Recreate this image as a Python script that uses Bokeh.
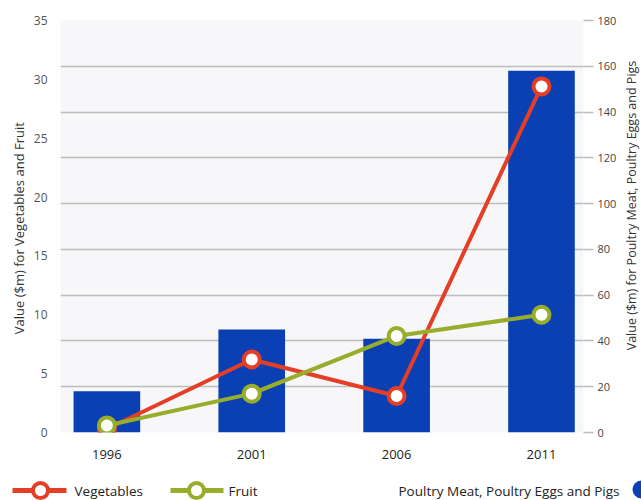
import math
from bokeh.plotting import figure
from bokeh.models import Range1d, LinearAxis, FixedTicker, SingleIntervalTicker
from bokeh.layouts import column, row
from bokeh.core.properties import value
from bokeh.embed import file_html
from bokeh.resources import INLINE

# ---- data ----
years = ["1996", "2001", "2006", "2011"]
vegetables = [0.3, 6.2, 3.1, 29.4]      # left axis ($m)
fruit = [0.6, 3.3, 8.2, 10.0]           # left axis ($m)
poultry = [18, 45, 41, 158]             # right axis ($m)
left_label = "Value ($m) for  Vegetables and Fruit"
right_label = "Value ($m) for Poultry Meat, Poultry Eggs and Pigs"
legend_names = ["Vegetables", "Fruit", "Poultry Meat, Poultry Eggs and Pigs"]

RED = "#e43f26"
GREEN = "#98ad2c"
BLUE = "#0a40b3"
FONT = "Open Sans"

xs = list(range(len(years)))

p = figure(width=619, height=470, x_range=Range1d(-0.32, 3.29), y_range=Range1d(0, 180),
           y_axis_location="right", output_backend="svg", toolbar_location=None,
           min_border_left=60, min_border_right=34, min_border_top=20, min_border_bottom=38)
p.extra_y_ranges = {"veg": Range1d(0, 35)}
p.background_fill_color = "#f7f7f9"
p.border_fill_color = "white"
p.outline_line_color = None

# right axis (main range)
ra = p.yaxis[0]
ra.ticker = SingleIntervalTicker(interval=20)
ra.major_tick_out = 10
ra.major_tick_in = 0
ra.major_tick_line_color = "#bdbdbd"
ra.major_tick_line_width = 1.5
ra.minor_tick_line_color = None
ra.axis_line_color = None
ra.major_label_standoff = 4
ra.major_label_text_font = FONT
ra.major_label_text_font_size = "11px"
ra.major_label_text_color = "#444444"

p.ygrid.grid_line_color = "#bdbdbd"
p.ygrid.grid_line_width = 1.5
p.xgrid.visible = False

# left axis
la = LinearAxis(y_range_name="veg", ticker=SingleIntervalTicker(interval=5), axis_label=left_label)
la.major_tick_out = 0
la.major_tick_in = 0
la.minor_tick_line_color = None
la.axis_line_color = None
la.major_label_standoff = 9
la.major_label_text_font = FONT
la.major_label_text_font_size = "12px"
la.major_label_text_color = "#555555"
la.axis_label_standoff = 3
la.axis_label_text_font = FONT
la.axis_label_text_font_style = "normal"
la.axis_label_text_font_size = "13px"
la.axis_label_text_color = "#333333"
p.add_layout(la, "left")

# x axis
xa = p.xaxis[0]
xa.ticker = FixedTicker(ticks=xs)
xa.major_label_overrides = {i: y for i, y in zip(xs, years)}
xa.major_tick_line_color = None
xa.minor_tick_line_color = None
xa.axis_line_color = None
xa.major_label_standoff = 11
xa.major_label_text_font = FONT
xa.major_label_text_font_size = "13px"
xa.major_label_text_color = "#222222"

# bars
p.vbar(x=xs, top=poultry, width=0.46, bottom=0, fill_color=BLUE, line_color=None)

# lines
p.line(xs, vegetables, y_range_name="veg", line_color=RED, line_width=4)
p.line(xs, fruit, y_range_name="veg", line_color=GREEN, line_width=4)
p.scatter(xs, vegetables, y_range_name="veg", marker="circle", size=16,
          fill_color="white", line_color=RED, line_width=4)
p.scatter(xs, fruit, y_range_name="veg", marker="circle", size=16,
          fill_color="white", line_color=GREEN, line_width=4)

# ---- right-hand strip holding the right axis title (reads bottom to top) ----
r = figure(width=22, height=470, x_range=Range1d(0, 22), y_range=Range1d(0, 470),
           x_axis_location=None, y_axis_location=None, output_backend="svg",
           toolbar_location=None, min_border=0)
r.grid.visible = False
r.outline_line_color = None
r.background_fill_color = "white"
r.border_fill_color = "white"
r.text(x=[12], y=[265], text=[right_label], angle=math.pi / 2, text_align="center",
       text_baseline="middle", text_font=value(FONT), text_font_size="12.5px",
       text_color="#333333")

# ---- legend strip ----
q = figure(width=641, height=30, x_range=Range1d(0, 641), y_range=Range1d(0, 30),
           x_axis_location=None, y_axis_location=None, output_backend="svg",
           toolbar_location=None, min_border=0)
q.grid.visible = False
q.outline_line_color = None
q.background_fill_color = "white"
q.border_fill_color = "white"

ly = 10
q.segment(x0=[12], y0=[ly], x1=[66], y1=[ly], line_color=RED, line_width=5)
q.scatter([40], [ly], marker="circle", size=15, fill_color="white", line_color=RED, line_width=4)
q.segment(x0=[170], y0=[ly], x1=[223], y1=[ly], line_color=GREEN, line_width=5)
q.scatter([196], [ly], marker="circle", size=15, fill_color="white", line_color=GREEN, line_width=4)
q.scatter([641], [ly + 1], marker="circle", size=18, fill_color=BLUE, line_color=None)
q.text(x=[74, 228, 398], y=[ly, ly, ly], text=legend_names, text_baseline="middle",
       text_align="left", text_font=value(FONT), text_font_size="13.5px", text_color="#222222")

for fig in (p, q, r):
    if "frame_align" in fig.properties():
        fig.frame_align = False

layout = column(row(p, r, spacing=0), q, spacing=0)
open("out.html", "w").write(file_html(layout, INLINE))
